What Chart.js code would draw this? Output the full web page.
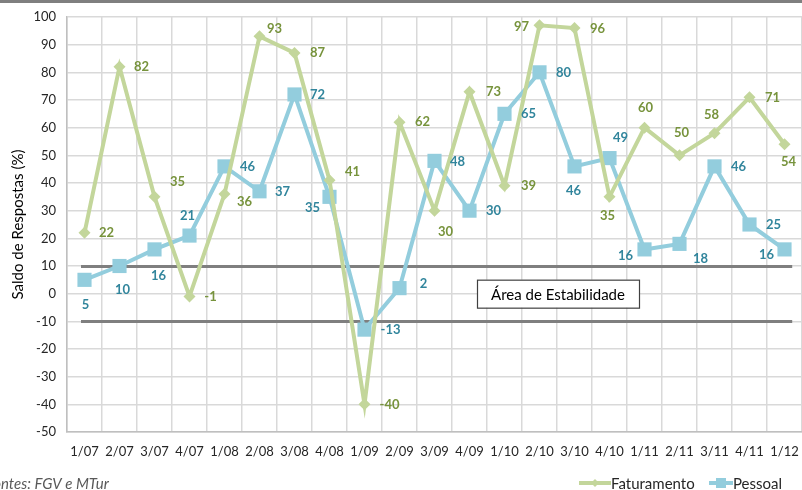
<!DOCTYPE html>
<html>
<head>
<meta charset="utf-8">
<script src="https://cdn.jsdelivr.net/npm/chart.js@4/dist/chart.umd.min.js"></script>
<style>
  html, body { margin: 0; padding: 0; background: #fff; }
  canvas { display: block; }
</style>
</head>
<body>
<canvas id="c" width="802" height="490"></canvas>
<script>
// ---- data ----
const categories = ['1/07','2/07','3/07','4/07','1/08','2/08','3/08','4/08','1/09','2/09','3/09','4/09','1/10','2/10','3/10','4/10','1/11','2/11','3/11','4/11','1/12'];
const faturamento = [22, 82, 35, -1, 36, 93, 87, 41, -40, 62, 30, 73, 39, 97, 96, 35, 60, 50, 58, 71, 54];
const pessoal = [5, 10, 16, 21, 46, 37, 72, 35, -13, 2, 48, 30, 65, 80, 46, 49, 16, 18, 46, 25, 16];
const yMin = -50, yMax = 100, yStep = 10;
const stabilityUpper = 10, stabilityLower = -10;
const stabilityText = 'Área de Estabilidade';
const yTitle = 'Saldo de Respostas (%)';
const sourceText = 'Fontes: FGV e MTur';

// ---- label placement (style) ----
const fatOffsets = [[22,0],[22,0],[23,-15],[21,0],[20,8],[15,-8],[23,0],[23,-8],[25,0],[23,0],[11,21],[24,0],[24,0],[-18,2],[23,1],[-2,19],[1,-20],[2,-23],[-3,-18],[23,1],[4,18]];
const pesOffsets = [[1,25],[3,24],[4,26],[-2,-20],[23,0],[23,1],[23,0],[-17,11],[26,0],[24,-4],[23,1],[24,0],[24,0],[24,0],[-1,24],[11,-20],[-19,6],[21,15],[24,0],[24,0],[-18,5]];

const GREEN = '#C3D69B', GREEN_TXT = '#77933C';
const BLUE = '#93CDDD', BLUE_TXT = '#31859C';
const FONT = 'Lato, "Open Sans", sans-serif';

const decor = {
  id: 'decor',
  beforeDatasetsDraw(chart) {
    const ctx = chart.ctx, x = chart.scales.x, y = chart.scales.y;
    const cw = x.getPixelForValue(1) - x.getPixelForValue(0);
    const x0 = x.getPixelForValue(0) - 0.1 * cw;
    const x1 = x.getPixelForValue(categories.length - 1) + 0.22 * cw;
    ctx.save();
    ctx.strokeStyle = '#7F7F7F';
    ctx.lineWidth = 3;
    [stabilityUpper, stabilityLower].forEach(v => {
      const py = Math.round(y.getPixelForValue(v)) + 0.5;
      ctx.beginPath(); ctx.moveTo(x0, py); ctx.lineTo(x1, py); ctx.stroke();
    });
    ctx.restore();
  },
  afterDatasetsDraw(chart) {
    const ctx = chart.ctx;
    ctx.save();
    // data labels
    ctx.font = 'bold 13px ' + FONT;
    ctx.textAlign = 'center';
    ctx.textBaseline = 'middle';
    const drawLabels = (idx, offs, color) => {
      const meta = chart.getDatasetMeta(idx);
      ctx.fillStyle = color;
      meta.data.forEach((pt, i) => {
        const v = chart.data.datasets[idx].data[i];
        ctx.fillText(String(v), pt.x + offs[i][0], pt.y + offs[i][1]);
      });
    };
    drawLabels(0, fatOffsets, GREEN_TXT);
    drawLabels(1, pesOffsets, BLUE_TXT);

    // stability box
    const y = chart.scales.y;
    const cy = y.getPixelForValue(0);
    const bx = 477, bw = 162, bh = 28;
    ctx.fillStyle = '#fff';
    ctx.fillRect(bx, cy - bh / 2, bw, bh);
    ctx.strokeStyle = '#404040';
    ctx.lineWidth = 1.2;
    ctx.strokeRect(bx + 0.5, cy - bh / 2 + 0.5, bw, bh);
    ctx.fillStyle = '#000';
    ctx.font = '15px ' + FONT;
    ctx.fillText(stabilityText, bx + bw / 2, cy + 1);

    // y title
    ctx.save();
    ctx.translate(18, (chart.chartArea.top + chart.chartArea.bottom) / 2);
    ctx.rotate(-Math.PI / 2);
    ctx.font = '15px ' + FONT;
    ctx.fillStyle = '#000';
    ctx.fillText(yTitle, 0, 0);
    ctx.restore();

    // top border
    ctx.strokeStyle = '#7F7F7F';
    ctx.lineWidth = 3;
    ctx.beginPath(); ctx.moveTo(0, 1.5); ctx.lineTo(chart.width, 1.5); ctx.stroke();

    // source
    ctx.font = 'italic 15px ' + FONT;
    ctx.fillStyle = '#595959';
    ctx.textAlign = 'left';
    const foW = ctx.measureText('Fo').width;
    ctx.fillText(sourceText, -foW + 1, 484);

    // legend
    const ly = 483;
    ctx.lineWidth = 4;
    ctx.strokeStyle = GREEN; ctx.fillStyle = GREEN;
    ctx.beginPath(); ctx.moveTo(579, ly); ctx.lineTo(611, ly); ctx.stroke();
    ctx.beginPath(); ctx.moveTo(595, ly - 4); ctx.lineTo(599, ly); ctx.lineTo(595, ly + 4); ctx.lineTo(591, ly); ctx.closePath(); ctx.fill();
    ctx.strokeStyle = BLUE; ctx.fillStyle = BLUE;
    ctx.beginPath(); ctx.moveTo(709, ly); ctx.lineTo(733, ly); ctx.stroke();
    ctx.fillRect(716, ly - 5, 10, 10);
    ctx.font = '15px ' + FONT;
    ctx.fillStyle = '#262626';
    ctx.fillText('Faturamento', 611, ly + 1);
    ctx.fillText('Pessoal', 733, ly + 1);
    ctx.restore();
  }
};

new Chart(document.getElementById('c'), {
  type: 'line',
  data: {
    labels: categories,
    datasets: [
      {
        label: 'Faturamento', data: faturamento,
        borderColor: GREEN, backgroundColor: GREEN, borderWidth: 4,
        pointStyle: 'rectRot', pointRadius: 6, pointHoverRadius: 6,
        pointBackgroundColor: GREEN, pointBorderColor: GREEN, pointBorderWidth: 0,
        tension: 0
      },
      {
        label: 'Pessoal', data: pessoal,
        borderColor: BLUE, backgroundColor: BLUE, borderWidth: 4,
        pointStyle: 'rect', pointRadius: 10, pointHoverRadius: 10,
        pointBackgroundColor: BLUE, pointBorderColor: BLUE, pointBorderWidth: 0,
        tension: 0
      }
    ]
  },
  options: {
    responsive: false,
    animation: false,
    devicePixelRatio: 1,
    layout: { autoPadding: false, padding: { top: 17, right: 0, left: 0, bottom: 0 } },
    plugins: { legend: { display: false }, tooltip: { enabled: false } },
    scales: {
      x: {
        type: 'category',
        offset: true,
        grid: { offset: true, color: '#D9D9D9', lineWidth: 1.5, drawTicks: false },
        border: { color: '#BFBFBF', width: 1.5 },
        ticks: { color: '#262626', font: { family: FONT, size: 13 }, padding: 12, maxRotation: 0, autoSkip: false },
        afterFit(s) { s.height = 58; s.paddingLeft = 0; s.paddingRight = 0; }
      },
      y: {
        min: yMin, max: yMax,
        grid: { color: '#D9D9D9', lineWidth: 1.5, drawTicks: false },
        border: { color: '#BFBFBF', width: 1.5 },
        ticks: { stepSize: yStep, color: '#262626', font: { family: FONT, size: 13 }, padding: 11 },
        afterFit(s) { s.width = 67; s.paddingTop = 0; s.paddingBottom = 0; }
      }
    }
  },
  plugins: [decor]
});
</script>
</body>
</html>
